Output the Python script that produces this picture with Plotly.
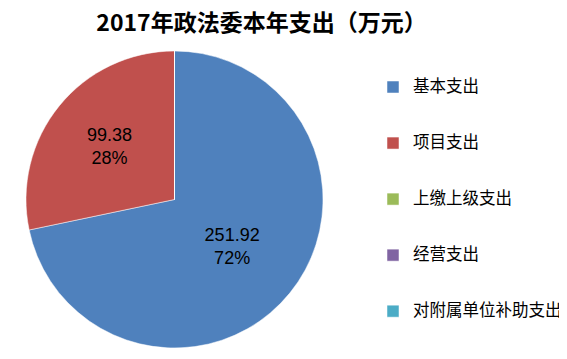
import plotly.graph_objects as go

categories = ["基本支出", "项目支出", "上缴上级支出", "经营支出", "对附属单位补助支出"]
values = [251.92, 99.38, 0, 0, 0]
colors = ["#4F81BD", "#C0504D", "#9BBB59", "#8064A2", "#4BACC6"]
title = "2017年政法委本年支出（万元）"

W, H = 567, 359
OFF = 8  # page body margin
tpl = "%{value:.2f}<br>%{percent:.0%}"
templates = [tpl if v > 0 else "" for v in values]
legend_labels = ["<br><span style='font-size:16.5px'>" + c + "</span><br> " for c in categories]

fig = go.Figure(go.Pie(
    labels=legend_labels,
    values=values,
    marker=dict(colors=colors, line=dict(color="white", width=0.5)),
    sort=False,
    direction="clockwise",
    rotation=0,
    texttemplate=templates,
    textposition="inside",
    insidetextorientation="horizontal",
    textfont=dict(family="Liberation Sans", size=18, color="black"),
    domain=dict(x=[(26 - OFF) / W, (323 - OFF) / W],
                y=[(H - 348 + OFF) / H, (H - 51 + OFF) / H]),
    hoverinfo="value+percent",
))

fig.update_layout(
    width=W, height=H,
    margin=dict(l=0, r=0, t=0, b=0),
    paper_bgcolor="white",
    plot_bgcolor="white",
    title=dict(text="<b>" + title + "</b>", x=(261.5 - OFF) / W, xanchor="center",
               y=1 - 7 / H, yanchor="top",
               font=dict(family="Noto Sans CJK SC", size=23, color="black")),
    legend=dict(x=(391 - OFF - 18) / W, xanchor="left",
                y=1 - (199.5 - OFF) / H, yanchor="middle",
                font=dict(family="Noto Sans CJK SC", size=13.6, color="black"),
                valign="middle", bgcolor="rgba(0,0,0,0)"),
    showlegend=True,
)

fig.write_html("out.html")
